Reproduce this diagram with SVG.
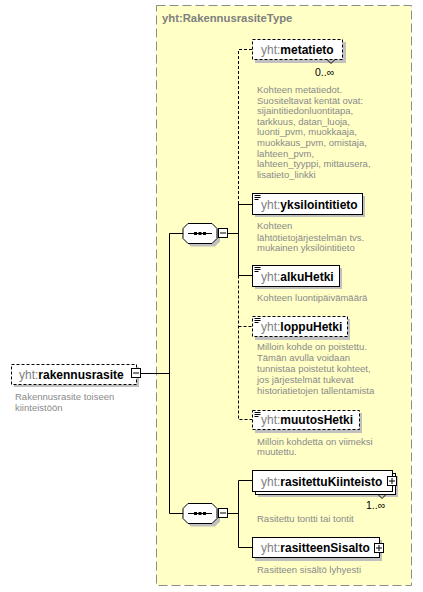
<svg xmlns="http://www.w3.org/2000/svg" width="423" height="592" viewBox="0 0 423 592">
<style>
.t{font-family:"Liberation Sans",Arial,sans-serif;font-size:12px;font-weight:bold;fill:#000}
.p{font-weight:normal;fill:#808080}
.d{font-family:"Liberation Sans",Arial,sans-serif;font-size:9.5px;fill:#8a8a8a}
.m{font-family:"Liberation Sans",Arial,sans-serif;font-size:10.5px;fill:#000}
.box{fill:#fff;stroke:#000;stroke-width:1}
.dash{stroke-dasharray:3,2}
.sh{fill:#c0c0c0}
.ln{stroke:#000;stroke-width:1;fill:none}
.dl{stroke:#000;stroke-width:1;fill:none;stroke-dasharray:3,2}
</style>
<defs>
<g id="icon"><path d="M2.5,2.5h6M2.5,4.5h6M2.5,6.5h4" stroke="#000" stroke-width="1"/></g>
<g id="seq">
<polygon points="5,0 29,0 34,5 34,15 29,20 5,20 0,15 0,5" class="sh" transform="translate(3,3)"/>
<polygon points="5,0 29,0 34,5 34,15 29,20 5,20 0,15 0,5" class="box"/>
<line x1="5" y1="10" x2="29" y2="10" class="ln"/>
<rect x="11" y="8.5" width="3" height="3" fill="#000"/>
<rect x="15.5" y="8.5" width="3" height="3" fill="#000"/>
<rect x="20" y="8.5" width="3" height="3" fill="#000"/>
</g>
<g id="minus"><rect x="0.5" y="0.5" width="9" height="9" class="box"/><line x1="2" y1="5" x2="8" y2="5" class="ln"/></g>
<g id="plus"><rect x="0.5" y="0.5" width="9" height="9" class="box"/><line x1="2" y1="5" x2="8" y2="5" class="ln"/><line x1="5" y1="2" x2="5" y2="8" class="ln"/></g>
</defs>
<rect x="156.5" y="5.5" width="255" height="580" fill="#ffffc6" stroke="#8c8c8c" stroke-dasharray="9,4"/>
<text x="162" y="22" font-family="Liberation Sans,Arial,sans-serif" font-size="11.3" font-weight="bold" fill="#808080">yht:RakennusrasiteType</text>
<g id="connectors">
<line x1="141" y1="373.5" x2="169.5" y2="373.5" class="ln"/>
<line x1="169.5" y1="233.5" x2="169.5" y2="513.5" class="ln"/>
<line x1="169.5" y1="233.5" x2="183" y2="233.5" class="ln"/>
<line x1="169.5" y1="513.5" x2="183" y2="513.5" class="ln"/>
<line x1="228" y1="233.5" x2="238.5" y2="233.5" class="ln"/>
<line x1="228" y1="513.5" x2="238.5" y2="513.5" class="ln"/>
<path d="M252,49.5H238.5V204" class="dl"/>
<path d="M238.5,204V275.5" class="ln"/>
<path d="M238.5,204.5H252M238.5,275.5H252" class="ln"/>
<path d="M238.5,275.5V419.5H252M238.5,326.5H252" class="dl"/>
<path d="M252,480.5H238.5V547.5H252" class="ln"/>
</g>
<g id="root">
<rect x="14" y="367" width="125" height="20" class="sh"/>
<rect x="11.5" y="364.5" width="125" height="20" class="box dash"/>
<text x="19" y="378.5" class="t"><tspan class="p">yht:</tspan>rakennusrasite</text>
<use href="#minus" x="131" y="368"/>
<text class="d"><tspan x="15" y="400">Rakennusrasite toiseen</tspan><tspan x="15" y="411">kiinteistöön</tspan></text>
</g>
<g id="seq1"><use href="#seq" x="183" y="223.5"/><use href="#minus" x="218" y="228"/></g>
<g id="seq2"><use href="#seq" x="183" y="503.5"/><use href="#minus" x="218" y="508"/></g>
<g id="metatieto">
<rect x="255" y="42" width="91" height="21" class="sh"/>
<rect x="252.5" y="39.5" width="90" height="20" class="box dash"/>
<text x="261" y="54" class="t"><tspan class="p">yht:</tspan>metatieto</text>
<path d="M327,59.5l4,4l4,-4" class="ln" fill="#fff"/>
<text x="315" y="76" class="m">0..∞</text>
<text class="d"><tspan x="257" y="93">Kohteen metatiedot.</tspan><tspan x="257" y="104">Suositeltavat kentät ovat:</tspan><tspan x="257" y="114">sijaintitiedonluontitapa,</tspan><tspan x="257" y="125">tarkkuus, datan_luoja,</tspan><tspan x="257" y="135">luonti_pvm, muokkaaja,</tspan><tspan x="257" y="146">muokkaus_pvm, omistaja,</tspan><tspan x="257" y="157">lahteen_pvm,</tspan><tspan x="257" y="167">lahteen_tyyppi, mittausera,</tspan><tspan x="257" y="178">lisatieto_linkki</tspan></text>
</g>
<g id="yksilointitieto">
<rect x="255" y="196" width="110" height="21" class="sh"/>
<rect x="252.5" y="193.5" width="110" height="21" class="box"/>
<use href="#icon" x="252" y="193"/>
<text x="261" y="208.5" class="t"><tspan class="p">yht:</tspan>yksilointitieto</text>
<text class="d"><tspan x="257" y="229">Kohteen</tspan><tspan x="257" y="241">lähtötietojärjestelmän  tvs.</tspan><tspan x="257" y="251">mukainen yksilöintitieto</tspan></text>
</g>
<g id="alkuHetki">
<rect x="255" y="268" width="87" height="21" class="sh"/>
<rect x="252.5" y="265.5" width="87" height="21" class="box"/>
<use href="#icon" x="252" y="265"/>
<text x="261" y="280.5" class="t"><tspan class="p">yht:</tspan>alkuHetki</text>
<text class="d"><tspan x="257" y="301">Kohteen luontipäivämäärä</tspan></text>
</g>
<g id="loppuHetki">
<rect x="255" y="319" width="95" height="21" class="sh"/>
<rect x="252.5" y="316.5" width="95" height="20" class="box dash"/>
<use href="#icon" x="252" y="316"/>
<text x="261" y="331" class="t"><tspan class="p">yht:</tspan>loppuHetki</text>
<text class="d"><tspan x="257" y="350">Milloin kohde on poistettu.</tspan><tspan x="257" y="361">Tämän avulla voidaan</tspan><tspan x="257" y="372">tunnistaa poistetut kohteet,</tspan><tspan x="257" y="383">jos järjestelmät tukevat</tspan><tspan x="257" y="394">historiatietojen tallentamista</tspan></text>
</g>
<g id="muutosHetki">
<rect x="255" y="413" width="107" height="20" class="sh"/>
<rect x="252.5" y="410.5" width="107" height="19" class="box dash"/>
<use href="#icon" x="252" y="410"/>
<text x="261" y="424" class="t"><tspan class="p">yht:</tspan>muutosHetki</text>
<text class="d"><tspan x="257" y="445">Milloin kohdetta on viimeksi</tspan><tspan x="257" y="455">muutettu.</tspan></text>
</g>
<g id="rasitettuKiinteisto">
<rect x="258" y="476" width="140" height="21" class="sh"/>
<rect x="255.5" y="473.5" width="140" height="21" class="box"/>
<rect x="252.5" y="470.5" width="140" height="21" class="box"/>
<text x="261" y="485.5" class="t"><tspan class="p">yht:</tspan>rasitettuKiinteisto</text>
<use href="#plus" x="387" y="476"/>
<path d="M378,494.5l4,4l4,-4" class="ln" fill="#fff"/>
<text x="366" y="509" class="m">1..∞</text>
<text class="d"><tspan x="257" y="522">Rasitettu tontti tai tontit</tspan></text>
</g>
<g id="rasitteenSisalto">
<rect x="255" y="540" width="127" height="21" class="sh"/>
<rect x="252.5" y="537.5" width="127" height="20" class="box"/>
<text x="261" y="552" class="t"><tspan class="p">yht:</tspan>rasitteenSisalto</text>
<use href="#plus" x="374" y="543"/>
<text class="d"><tspan x="257" y="573">Rasitteen sisältö lyhyesti</tspan></text>
</g>
</svg>
